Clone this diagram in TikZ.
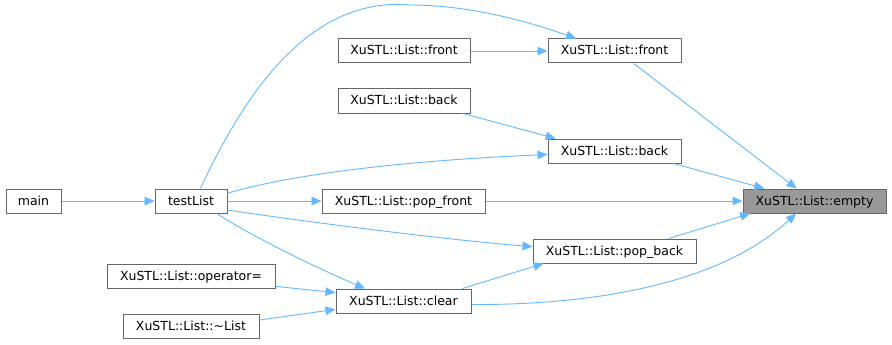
\documentclass[tikz,border=0pt]{standalone}
\usepackage{fontspec}
\setmainfont{DejaVu Sans}
\usetikzlibrary{arrows.meta}
\definecolor{edgeblue}{HTML}{63B8FF}
\definecolor{boxline}{HTML}{666666}
\definecolor{hilite}{HTML}{999999}

\begin{document}
\begin{tikzpicture}[x=1pt,y=-1pt,
  fn/.style={draw=boxline, line width=1pt, fill=white, minimum height=24pt,
    inner sep=0pt, text height=10pt, text depth=2pt,
    font=\fontsize{12.5}{15}\selectfont, text=black},
  cur/.style={fn, fill=hilite},
  call/.style={draw=edgeblue, line width=0.9pt,
    -{Triangle[length=10pt,width=8.5pt]}}]
\useasboundingbox (0,0) rectangle (892,345);

% functions
\node[fn, minimum width=55pt]  (main)     at (33.5,201)  {main};
\node[fn, minimum width=72pt]  (testList) at (191,201)   {testList};
\node[fn, minimum width=168pt] (opeq)     at (191,276)   {XuSTL::List::operator=};
\node[fn, minimum width=136pt] (dtor)     at (191,326)   {XuSTL::List::\textasciitilde List};
\node[fn, minimum width=132pt] (frontL)   at (404,51)    {XuSTL::List::front};
\node[fn, minimum width=132pt] (backL)    at (404,101)   {XuSTL::List::back};
\node[fn, minimum width=163pt] (popfront) at (403.5,201) {XuSTL::List::pop\_front};
\node[fn, minimum width=135pt] (clear)    at (403.5,301) {XuSTL::List::clear};
\node[fn, minimum width=133pt] (frontR)   at (614.5,51)  {XuSTL::List::front};
\node[fn, minimum width=133pt] (backR)    at (614.5,151) {XuSTL::List::back};
\node[fn, minimum width=163pt] (popback)  at (614.5,251) {XuSTL::List::pop\_back};
\node[cur, minimum width=143pt] (empty)   at (814.5,201) {XuSTL::List::empty};

% call edges
\draw[call] (main) -- (testList);
\draw[call] (testList.53) .. controls (235,115) and (300,-5) .. (410,5)
  .. controls (470,5) and (530,22) .. (frontR.162.3);
\draw[call] (frontL) -- (frontR);
\draw[call] (frontR.-33) -- (empty.145.6);
\draw[call] (backL.-12.5) -- (backR.168.2);
\draw[call] (testList.12.5) .. controls (300,172) and (420,160) .. (backR.183.4);
\draw[call] (backR.-12.9) -- (empty.166.9);
\draw[call] (testList) -- (popfront);
\draw[call] (popfront) -- (empty);
\draw[call] (testList.-14) .. controls (330,225) and (450,240) .. (popback.177.9);
\draw[call] (popback.13.4) -- (empty.191.8);
\draw[call] (testList.-26.6) .. controls (250,235) and (310,265) .. (clear.162.7);
\draw[call] (clear.12) -- (popback.190.9);
\draw[call] (clear.-3.4) .. controls (620,305) and (730,275) .. (empty.214.4);
\draw[call] (opeq.-7.5) -- (clear.173.2);
\draw[call] (dtor.5.9) -- (clear.187.6);
\end{tikzpicture}
\end{document}
